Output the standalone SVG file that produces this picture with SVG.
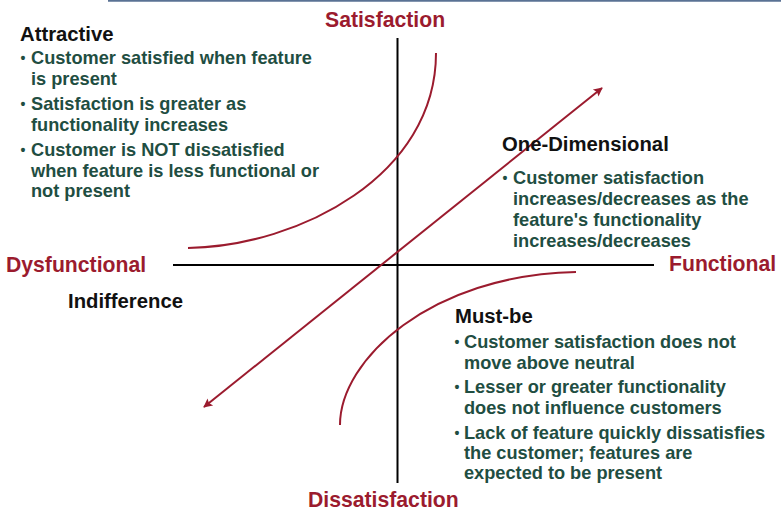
<svg xmlns="http://www.w3.org/2000/svg" width="781" height="512" viewBox="0 0 781 512">
<defs>
<style>
.axis{stroke:#000;stroke-width:2;fill:none}
.curve{stroke:#9b1b2e;stroke-width:2;fill:none}
.axl{font-family:"Liberation Sans",Arial,sans-serif;font-weight:bold;font-size:21.2px;fill:#9b1b2e}
.hd{font-family:"Liberation Sans",Arial,sans-serif;font-weight:bold;font-size:20.3px;fill:#111}
.bt{font-family:"Liberation Sans",Arial,sans-serif;font-weight:bold;font-size:18.2px;fill:#1f4e42}
.dot{font-family:"Liberation Sans",Arial,sans-serif;font-weight:bold;font-size:14px;fill:#1f4e42}
</style>
<marker id="ah" viewBox="0 0 10 10" refX="9" refY="5" markerWidth="11" markerHeight="9" markerUnits="userSpaceOnUse" orient="auto">
<path d="M0,0 L10,5 L0,10 L2,5 Z" fill="#9b1b2e"/>
</marker>
<marker id="ahs" viewBox="0 0 10 10" refX="1" refY="5" markerWidth="11" markerHeight="9" markerUnits="userSpaceOnUse" orient="auto">
<path d="M10,0 L0,5 L10,10 L8,5 Z" fill="#9b1b2e"/>
</marker>
</defs>
<rect x="0" y="0" width="781" height="512" fill="#fff"/>
<line x1="108" y1="0.8" x2="781" y2="0.8" stroke="#5a7294" stroke-width="1.8"/>

<g id="connectors">
<line class="axis" x1="397.5" y1="38" x2="397.5" y2="483"/>
<line class="axis" x1="173" y1="265" x2="654" y2="265"/>
<path class="curve" d="M188,248 C300,246 436,175 436,53"/>
<path class="curve" d="M340,425 C340,360 430,275 576,272"/>
<line class="curve" x1="204" y1="407" x2="602" y2="88" marker-start="url(#ahs)" marker-end="url(#ah)"/>
</g>

<g id="axis-labels">
<text class="axl" x="325" y="27">Satisfaction</text>
<text class="axl" x="6" y="272">Dysfunctional</text>
<text class="axl" x="669" y="271">Functional</text>
<text class="axl" x="308" y="507">Dissatisfaction</text>
</g>

<g id="attractive">
<text class="hd" x="20" y="41">Attractive</text>
<text class="dot" x="20.5" y="63">•</text>
<text class="bt" x="31" y="64">Customer satisfied when feature</text>
<text class="bt" x="31" y="85">is present</text>
<text class="dot" x="20.5" y="109">•</text>
<text class="bt" x="31" y="110">Satisfaction is greater as</text>
<text class="bt" x="31" y="131">functionality increases</text>
<text class="dot" x="20.5" y="155">•</text>
<text class="bt" x="31" y="156">Customer is NOT dissatisfied</text>
<text class="bt" x="31" y="177">when feature is less functional or</text>
<text class="bt" x="31" y="197">not present</text>
</g>

<g id="one-dimensional">
<text class="hd" x="502" y="151">One-Dimensional</text>
<text class="dot" x="502.5" y="183">•</text>
<text class="bt" x="513" y="184">Customer satisfaction</text>
<text class="bt" x="513" y="205">increases/decreases as the</text>
<text class="bt" x="513" y="226">feature's functionality</text>
<text class="bt" x="513" y="247">increases/decreases</text>
</g>

<g id="indifference">
<text class="hd" x="68" y="308">Indifference</text>
</g>

<g id="must-be">
<text class="hd" x="455" y="323">Must-be</text>
<text class="dot" x="454.5" y="347">•</text>
<text class="bt" x="464" y="348">Customer satisfaction does not</text>
<text class="bt" x="464" y="369">move above neutral</text>
<text class="dot" x="454.5" y="392">•</text>
<text class="bt" x="464" y="393">Lesser or greater functionality</text>
<text class="bt" x="464" y="414">does not influence customers</text>
<text class="dot" x="454.5" y="438">•</text>
<text class="bt" x="464" y="439">Lack of feature quickly dissatisfies</text>
<text class="bt" x="464" y="459">the customer; features are</text>
<text class="bt" x="464" y="479">expected to be present</text>
</g>
</svg>
